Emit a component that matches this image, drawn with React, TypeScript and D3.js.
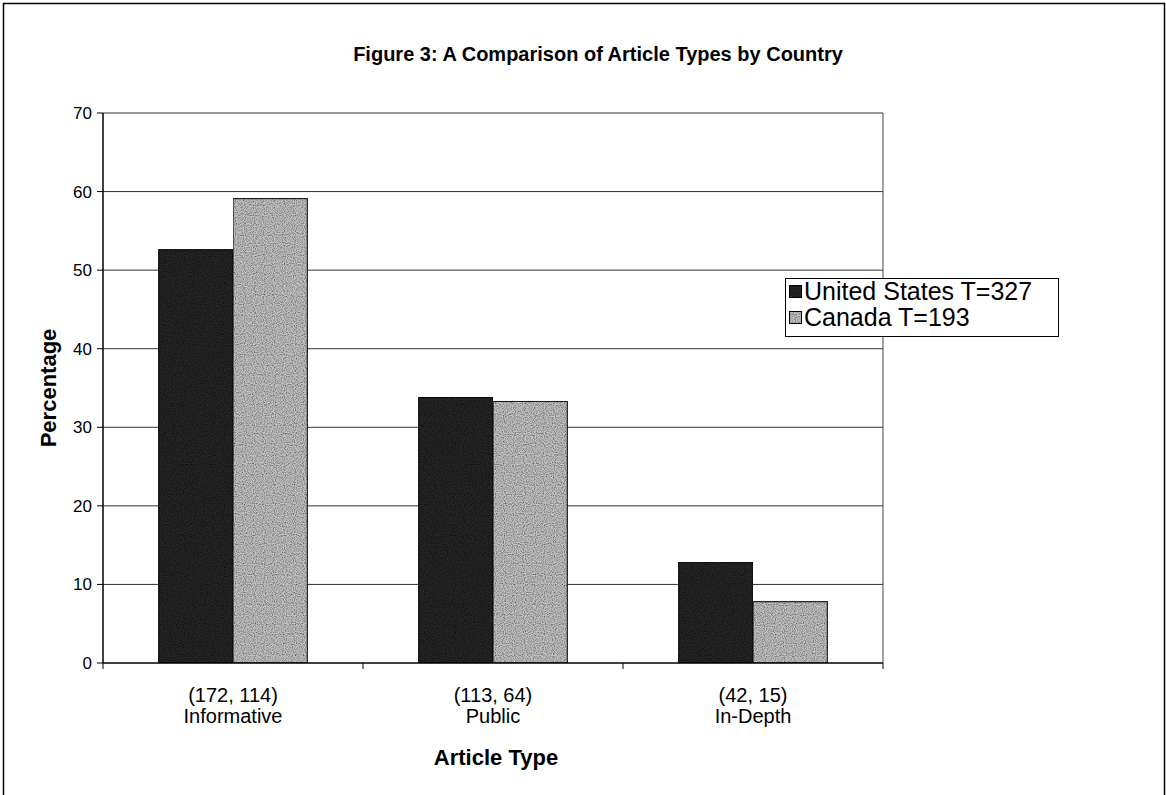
import React from "react";
import * as d3 from "d3";

const categories = ["Informative", "Public", "In-Depth"];
const countLabels = ["(172, 114)", "(113, 64)", "(42, 15)"];
const seriesNames = ["United States T=327", "Canada T=193"];
const unitedStates = [52.6, 33.8, 12.85];
const canada = [59.1, 33.3, 7.8];
const yTicks = [0, 10, 20, 30, 40, 50, 60, 70];

const W = 1166;
const H = 795;
const plot = { left: 103, right: 883, top: 113, bottom: 663 };
const fills = ["#262626", "#c4c4c4"];
const font = "'Liberation Sans', Arial, sans-serif";

export default function App() {
  const x = d3
    .scaleBand<string>()
    .domain(categories)
    .range([plot.left, plot.right])
    .paddingInner(0)
    .paddingOuter(0);
  const y = d3.scaleLinear().domain([0, 70]).range([plot.bottom, plot.top]);
  const band = x.bandwidth();
  const barW = band / 3.5;
  const series = [unitedStates, canada];

  return (
    <svg
      width={W}
      height={H}
      style={{ position: "absolute", left: 0, top: 0, background: "#fff" }}
      fontFamily={font}
    >
      <defs>
        <filter id="grain" x="0" y="0" width="100%" height="100%">
          <feTurbulence type="fractalNoise" baseFrequency="0.9" numOctaves="1" seed="3" result="n" />
          <feColorMatrix
            in="n"
            type="matrix"
            values="0 0 0 0 0  0 0 0 0 0  0 0 0 0 0  0 0 0 -1.8 1.15"
            result="spk"
          />
          <feComposite in="spk" in2="SourceGraphic" operator="in" result="s" />
          <feBlend in="SourceGraphic" in2="s" mode="multiply" />
        </filter>
      </defs>
      {/* outer frame */}
      <path d={`M3.5,${H} V3.5 H1164.5 V${H}`} fill="none" stroke="#000" strokeWidth={1.5} />

      <text x={598} y={61} textAnchor="middle" fontSize={20} fontWeight="bold">
        Figure 3: A Comparison of Article Types by Country
      </text>

      {/* gridlines and y ticks */}
      {yTicks.map((t) => (
        <g key={t}>
          {t > 0 && (
            <line x1={plot.left} x2={plot.right} y1={y(t)} y2={y(t)} stroke="#333" strokeWidth={1} />
          )}
          <line x1={plot.left - 6} x2={plot.left} y1={y(t)} y2={y(t)} stroke="#000" />
          <text x={plot.left - 11} y={y(t) + 6} textAnchor="end" fontSize={17}>
            {t}
          </text>
        </g>
      ))}

      {/* bars */}
      {series.map((vals, si) =>
        categories.map((c, ci) => {
          const x0 = (x(c) as number) + band / 2 - barW + si * barW;
          return (
            <rect
              key={`${si}-${ci}`}
              x={x0}
              y={y(vals[ci])}
              width={barW}
              height={y(0) - y(vals[ci])}
              fill={fills[si]}
              stroke="#000"
              strokeWidth={1}
              filter="url(#grain)"
            />
          );
        })
      )}

      {/* plot frame */}
      <line x1={plot.right} x2={plot.right} y1={plot.top} y2={plot.bottom} stroke="#444" strokeWidth={1} />
      <line x1={plot.left} x2={plot.left} y1={plot.top} y2={plot.bottom} stroke="#000" strokeWidth={1.5} />
      <line x1={plot.left} x2={plot.right} y1={plot.bottom} y2={plot.bottom} stroke="#000" strokeWidth={1.5} />
      {[...categories.map((c) => x(c) as number), plot.right].map((v, i) => (
        <line key={i} x1={v} x2={v} y1={plot.bottom} y2={plot.bottom + 6} stroke="#000" />
      ))}

      {/* category labels */}
      {categories.map((c, i) => {
        const cx = (x(c) as number) + band / 2;
        return (
          <g key={c}>
            <text x={cx} y={702} textAnchor="middle" fontSize={20}>
              {countLabels[i]}
            </text>
            <text x={cx} y={723} textAnchor="middle" fontSize={20}>
              {c}
            </text>
          </g>
        );
      })}

      <text x={496} y={765} textAnchor="middle" fontSize={22} fontWeight="bold">
        Article Type
      </text>
      <text
        transform={`translate(56,${(plot.top + plot.bottom) / 2}) rotate(-90)`}
        textAnchor="middle"
        fontSize={22}
        fontWeight="bold"
      >
        Percentage
      </text>

      {/* legend */}
      <rect x={785.5} y={278.5} width={273} height={58} fill="#fff" stroke="#000" />
      {seriesNames.map((n, i) => (
        <g key={n}>
          <rect
            x={789.5}
            y={285.5 + i * 26}
            width={12}
            height={12}
            fill={fills[i]}
            stroke="#000"
            filter="url(#grain)"
          />
          <text x={804} y={300 + i * 26} fontSize={25}>
            {n}
          </text>
        </g>
      ))}
    </svg>
  );
}
